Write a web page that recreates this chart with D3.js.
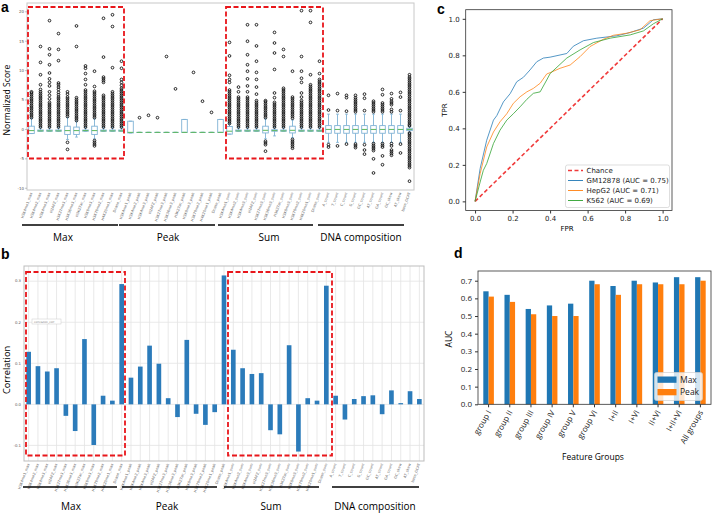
<!DOCTYPE html>
<html><head><meta charset="utf-8">
<script src="https://cdn.jsdelivr.net/npm/d3@7"></script>
<style>body{margin:0;background:#fff}svg{display:block}</style>
</head><body><svg id="c" width="712" height="516"></svg>
<script>
// ---------------- DATA ----------------
const featureNames = [
 "H3K4me1_max","H3K4me2_max","H3K4me3_max","H2AFZ_max","H3K27me3_max","H3K36me3_max","H3K27ac_max","H3K9me3_max","H3K79me2_max","H4K20me1_max","Dnase_max",
 "H3K4me1_peak","H3K4me2_peak","H3K4me3_peak","H2AFZ_peak","H3K27me3_peak","H3K36me3_peak","H3K27ac_peak","H3K9me3_peak","H3K79me2_peak","H4K20me1_peak","Dnase_peak",
 "H3K4me1_sum","H3K4me2_sum","H3K4me3_sum","H2AFZ_sum","H3K27me3_sum","H3K36me3_sum","H3K27ac_sum","H3K9me3_sum","H3K79me2_sum","H4K20me1_sum","Dnase_sum",
 "A_count","T_count","C_count","G_count","GC_count","AT_count","GA_count","GC_skew","AT_skew","base_GCAT"];
const groupNames = ["Max","Peak","Sum","DNA composition"];
const groupSizes = [11,11,11,10];

// panel a: box statistics (normalized score)
const boxQ1  = [-0.7,-0.3,-0.3,-0.3,-0.85,-0.85,-0.3,-0.85,-0.3,-0.3,-0.3,
                -0.6,-0.5,-0.5,-0.5,-0.5,-0.5,-0.5,-0.5,-0.5,-0.5,-0.5,
                -0.8,-0.3,-0.3,-0.3,-0.6,-0.3,-0.3,-0.6,-0.3,-0.3,-0.3,
                -0.65,-0.65,-0.65,-0.65,-0.65,-0.65,-0.65,-0.65,-0.65,-0.2];
const boxMed = [-0.2,-0.25,-0.25,-0.25,-0.2,-0.2,-0.2,-0.2,-0.25,-0.25,-0.25,
                -0.5,-0.5,-0.5,-0.5,-0.5,-0.5,-0.5,-0.5,-0.5,-0.5,-0.5,
                -0.3,-0.25,-0.25,-0.25,-0.15,-0.2,-0.25,-0.15,-0.25,-0.25,-0.25,
                0,0,0,0,0,0,0,0,0,0];
const boxQ3  = [0.55,-0.1,-0.1,-0.1,0.55,0.4,-0.1,0.55,-0.1,-0.1,-0.1,
                1.4,-0.5,-0.5,-0.5,-0.5,-0.5,1.7,-0.5,-0.5,-0.5,1.7,
                0.5,-0.1,-0.1,-0.1,0.55,-0.05,-0.1,0.55,-0.1,-0.1,-0.1,
                0.65,0.65,0.65,0.65,0.65,0.65,0.65,0.65,0.65,0.2];
const whiskLo = [-0.7,-0.3,-0.3,-0.3,-1.7,-1.3,-0.3,-1.6,-0.3,-0.3,-0.3,
                 -0.6,-0.5,-0.5,-0.5,-0.5,-0.5,-0.5,-0.5,-0.5,-0.5,-0.5,
                 -0.8,-0.3,-0.3,-0.3,-1.6,-1.1,-0.3,-1.4,-0.3,-0.3,-0.3,
                 -2.2,-2.2,-2.2,-2.2,-2.2,-2.2,-2.2,-2.2,-2.2,-0.5];
const whiskHi = [1.9,0.3,0.3,0.3,2.0,1.4,0.3,1.8,0.3,0.3,0.3,
                 1.4,-0.5,-0.5,-0.5,-0.5,-0.5,1.7,-0.5,-0.5,-0.5,1.7,
                 1.0,0.3,0.3,0.3,1.8,0.3,0.3,1.6,0.3,0.3,0.3,
                 2.6,2.6,2.6,2.6,2.6,2.6,2.6,2.6,2.6,0.5];
const outliers = [
 [2.0,2.3,2.6,2.9,3.2,3.5,3.8,4.1,4.4,4.7,5.0,5.3,5.6,5.9,6.2,6.4],
 [0.4,0.7,1.0,1.3,1.6,1.9,2.2,2.5,2.8,3.1,3.4,3.7,4.0,4.3,4.6,4.9,5.2,5.5,5.8,6.1,6.4,6.8,7.6,9.3,11.4,14.1],
 [0.4,0.7,1.0,1.3,1.6,1.9,2.2,2.5,2.8,3.1,3.4,3.7,4.0,4.3,4.6,5.2,5.8,6.4,7.4,8.0,8.6,9.6,11.0,12.7,13.7,18.5],
 [0.4,0.7,1.0,1.3,1.6,1.9,2.2,2.5,2.8,3.1,3.4,3.7,4.0,4.3,4.6,4.9,5.2,5.5,5.9,6.3,6.8,7.2,7.6,7.9,11.7,13.6,16.3],
 [-2.2,-3.4,2.2,2.5,2.8,3.1,3.4,3.7,4.0,4.3,4.6,4.9,5.2,5.5,6.0,6.4],
 [1.5,1.8,2.1,2.4,2.7,3.0,3.3,3.6,3.9,4.2,4.5,4.8,5.1,5.4,14.1,17.6],
 [0.4,0.7,1.0,1.3,1.6,1.9,2.2,2.5,2.8,3.1,3.4,3.7,4.0,4.3,4.6,4.9,5.2,5.5,5.8,6.1,6.4,6.7,7.6,8.5,9.5,10.4,10.8],
 [-1.9,-2.2,-2.5,-2.8,2.0,2.3,2.6,2.9,3.2,3.5,3.8,4.1,4.4,4.7,5.0,5.3,5.6,5.9,6.2,6.5,7.3,9.9],
 [0.4,0.7,1.0,1.3,1.6,1.9,2.2,2.5,2.8,3.1,3.4,3.7,4.0,4.3,4.6,4.9,5.2,5.5,5.8,8.0,8.3,8.6,8.9,12.3,18.9],
 [0.4,0.7,1.0,1.3,1.6,1.9,2.2,2.5,2.8,3.1,3.4,3.7,4.0,4.3,4.6,4.9,5.2,5.5,5.8,6.1,6.4,10.5,17.5,19.5],
 [0.4,0.7,1.0,1.3,1.6,1.9,2.2,2.5,2.8,3.1,3.4,3.7,4.0,4.3,4.6,4.9,5.2,5.5,5.8,6.1,6.4,6.7,7.0,7.5,8.0,8.5,10.4,11.6],
 [],[2.0],[2.4],[2.0],[12.4],[6.9],[],[9.7],[4.8],[2.9],[],
 [1.0,1.3,1.6,1.9,2.2,2.5,2.8,3.1,3.4,3.7,4.0,4.3,4.6,4.9,5.2,5.5,5.8,6.1,6.4,6.7,8.0,8.5,9.2,12.5,14.8],
 [0.4,0.7,1.0,1.3,1.6,1.9,2.2,2.5,2.8,3.1,3.4,3.7,4.0,4.3,4.6,4.9,5.2,5.5,6.4,7.2],
 [0.4,0.7,1.0,1.3,1.6,1.9,2.2,2.5,2.8,3.1,3.4,3.7,4.0,4.3,4.6,4.9,5.2,5.5,6.4,7.4,8.6,9.9,11.0,12.7,15.0,17.8],
 [0.4,0.7,1.0,1.3,1.6,1.9,2.2,2.5,2.8,3.1,3.4,3.7,4.0,4.3,4.6,4.9,6.0,7.2,8.5,9.7,11.6,14.2,17.8],
 [-2.0,-2.3,-2.6,-3.7,2.0,2.3,2.6,2.9,3.2,3.5,3.8,4.1,4.4,4.7,4.9],
 [0.4,0.7,1.0,1.3,1.6,1.9,2.2,2.5,2.8,3.1,3.4,3.7,4.0,4.3,4.6,5.4,6.2,10.2,13.0,14.7,16.5],
 [0.4,0.7,1.0,1.3,1.6,1.9,2.2,2.5,2.8,3.1,3.4,3.7,4.0,4.3,4.6,4.9,5.2,5.5,5.8,6.1,6.4,6.7,7.0,12.4,13.6],
 [-1.7,-2.0,-2.3,-2.6,-2.9,-3.2,1.9,2.2,2.5,2.8,3.1,3.4,3.7,4.0,4.3,4.6,4.9,5.2,5.5,9.9],
 [0.4,0.7,1.0,1.3,1.6,1.9,2.2,2.5,2.8,3.1,3.4,3.7,4.0,4.3,4.6,4.9,5.5,6.2,8.0,8.7,9.9,12.4,20.2],
 [0.4,0.7,1.0,1.3,1.6,1.9,2.2,2.5,2.8,3.1,3.4,3.7,4.0,4.3,4.6,4.9,5.2,5.5,5.8,6.1,6.4,6.7,7.0,7.3,7.6,9.3,18.2,20.2],
 [0.4,0.7,1.0,1.3,1.6,1.9,2.2,2.5,2.8,3.1,3.4,3.7,4.0,4.3,4.6,4.9,5.2,5.5,5.8,6.1,6.4,6.7,7.0,7.3,7.6,7.9,8.2,8.5,9.5,11.6],
 [-2.6,-3.0,3.3,5.8],
 [-2.8,3.2,6.1],
 [-2.5,3.1,5.4,5.8],
 [-2.5,-2.8,-3.1,3.0,3.3,3.6,3.9,4.2,4.5,4.8,5.1,5.4,5.8],
 [-2.6,-3.5,-4.2,3.2,5.3,6.0],
 [-2.4,-2.7,-3.0,-3.3,-3.6,-5.0,-7.4,3.0,3.3,3.6,3.9,4.2,4.5,4.8],
 [-2.4,-2.7,-3.0,-4.5,-6.0,3.0,3.3,3.6,3.9,4.2,4.5,5.9,6.8],
 [-2.4,-2.8,-3.5,-3.8,-4.1,-4.4,3.0,3.4,4.2,4.5,4.8,5.2,6.1],
 [-2.5,-4.0,3.2,5.5,6.3],
 [-8.8,-6.5,-6.2,-5.9,-5.6,-5.3,-5.0,-4.7,-4.4,-4.1,-3.8,-3.5,-3.2,-2.9,-2.6,-2.3,-2.0,-1.7,-1.4,-1.1,-0.8,-0.6,0.6,0.8,1.1,1.4,1.7,2.0,2.3,2.6,2.9,3.2,3.5,3.8,4.1,4.4,4.7,5.0,5.3,5.6,5.9,6.2,6.5,6.8,7.1,7.4,7.7,8.0,8.3,8.6,8.9,9.3]
];
const scoreTicks = [20,15,10,5,0,-5,-10];

// panel b: correlation
const corrValues = [0.128,0.093,0.080,0.088,-0.028,-0.065,0.159,-0.099,0.021,0.009,0.293,
                    0.065,0.092,0.143,0.099,0.015,-0.031,0.157,-0.023,-0.050,-0.019,0.314,
                    0.133,0.088,0.074,0.076,-0.063,-0.073,0.144,-0.115,0.015,0.009,0.289,
                    0.021,-0.037,0.013,0.020,0.022,-0.024,0.034,0.003,0.032,0.013];
const corrTicks = [0.3,0.2,0.1,0.0,-0.1];

// panel c: ROC
const fprGM  = [0,0.027,0.062,0.098,0.116,0.151,0.187,0.222,0.258,0.293,0.329,0.364,0.4,0.489,0.524,0.578,0.649,0.756,0.827,0.898,0.951,1.0];
const tprGM  = [0,0.18,0.335,0.445,0.47,0.545,0.59,0.655,0.68,0.72,0.765,0.785,0.79,0.81,0.85,0.88,0.894,0.907,0.925,0.949,0.995,1.0];
const fprHep = [0,0.027,0.062,0.098,0.133,0.169,0.204,0.24,0.276,0.311,0.347,0.382,0.4,0.453,0.507,0.56,0.613,0.684,0.738,0.809,0.88,0.933,1.0];
const tprHep = [0,0.152,0.298,0.38,0.436,0.48,0.537,0.573,0.6,0.619,0.647,0.698,0.705,0.729,0.747,0.793,0.848,0.888,0.91,0.921,0.94,0.99,1.0];
const fprK   = [0,0.027,0.044,0.062,0.098,0.133,0.169,0.204,0.24,0.276,0.311,0.347,0.382,0.4,0.489,0.56,0.631,0.72,0.827,0.898,0.951,1.0];
const tprK   = [0,0.106,0.17,0.207,0.317,0.39,0.445,0.48,0.518,0.559,0.592,0.6,0.665,0.70,0.785,0.83,0.87,0.894,0.912,0.934,0.973,1.0];
const rocLabels = ["GM12878 (AUC = 0.75)","HepG2 (AUC = 0.71)","K562 (AUC = 0.69)"];
const rateTicks = [0,0.2,0.4,0.6,0.8,1.0];

// panel d: AUC by feature group
const featureGroups = ["group I","group II","group III","group IV","group V","group VI","I+II","I+VI","II+VI","I+II+VI","All groups"];
const aucMax  = [0.64,0.62,0.54,0.56,0.57,0.70,0.67,0.70,0.69,0.72,0.72];
const aucPeak = [0.61,0.58,0.51,0.50,0.50,0.68,0.62,0.68,0.68,0.68,0.70];
const aucTicks = [0,0.1,0.2,0.3,0.4,0.5,0.6,0.7];

// ---------------- DRAW ----------------
const svg = d3.select("#c");
const F = "'Open Sans', 'DejaVu Sans', sans-serif";
const FD = "'DejaVu Sans', sans-serif";
svg.append("rect").attr("width",712).attr("height",516).attr("fill","#fff");

[["a",1,12],["b",1,259],["c",437,14],["d",454,258]].forEach(([t,x,y])=>
  svg.append("text").attr("x",x).attr("y",y).text(t)
    .attr("font-family","'Liberation Sans', Arial, sans-serif").attr("font-weight","bold").attr("font-size",14));

function groupUnderlines(g, y, yText, segs, labelX){
  groupNames.forEach((name,i)=>{
    g.append("line").attr("x1",segs[i][0]).attr("x2",segs[i][1]).attr("y1",y).attr("y2",y)
      .attr("stroke","#000").attr("stroke-width",1.6);
    g.append("text").attr("x",labelX[i]).attr("y",yText).attr("text-anchor","middle")
      .attr("font-family",F).attr("font-size",10).text(name);
  });
}

// ---------- Panel a ----------
{
  const g = svg.append("g");
  const x = d3.scaleBand().domain(featureNames).range([27,414]);
  const y = d3.scaleLinear().domain([-10.3,21.5]).range([190,3]);
  const bw = x.bandwidth()*0.62;
  g.append("rect").attr("x",27).attr("y",3).attr("width",387).attr("height",187)
    .attr("fill","none").attr("stroke","#c8c8c8").attr("stroke-width",1);
  scoreTicks.forEach(t=>{
    g.append("line").attr("x1",25).attr("x2",27).attr("y1",y(t)).attr("y2",y(t)).attr("stroke","#888").attr("stroke-width",0.5);
    g.append("text").attr("x",24).attr("y",y(t)+1.3).attr("text-anchor","end").attr("font-size",4)
      .attr("font-family",FD).attr("fill","#555").text(t);
  });
  featureNames.forEach((f,i)=>{
    const cx = x(f)+x.bandwidth()/2;
    const col = "#7fb2d5";
    g.append("line").attr("x1",cx).attr("x2",cx).attr("y1",y(boxQ3[i])).attr("y2",y(whiskHi[i])).attr("stroke",col).attr("stroke-width",0.9);
    g.append("line").attr("x1",cx).attr("x2",cx).attr("y1",y(boxQ1[i])).attr("y2",y(whiskLo[i])).attr("stroke",col).attr("stroke-width",0.9);
    [whiskHi[i],whiskLo[i]].forEach(w=>g.append("line").attr("x1",cx-bw/4).attr("x2",cx+bw/4).attr("y1",y(w)).attr("y2",y(w)).attr("stroke",col).attr("stroke-width",0.9));
    g.append("rect").attr("x",cx-bw/2).attr("y",y(boxQ3[i])).attr("width",bw).attr("height",Math.max(0.01,y(boxQ1[i])-y(boxQ3[i])))
      .attr("fill","none").attr("stroke",col).attr("stroke-width",0.9);
    outliers[i].forEach(v=>g.append("circle").attr("cx",cx).attr("cy",y(v)).attr("r",1.35)
      .attr("fill","none").attr("stroke","#111").attr("stroke-width",0.9));
    g.append("line").attr("x1",cx-bw/2).attr("x2",cx+bw/2).attr("y1",y(boxMed[i])).attr("y2",y(boxMed[i]))
      .attr("stroke","#5cb85c").attr("stroke-width",1);
    g.append("text").attr("transform",`translate(${cx+1},${193}) rotate(-70)`).attr("text-anchor","end")
      .attr("font-size",3.6).attr("font-family",FD).attr("fill","#666").text(f);
  });
  [[28,124],[226,323]].forEach(([x1,x2])=>g.append("rect").attr("x",x1).attr("y",7).attr("width",x2-x1).attr("height",151.5)
    .attr("fill","none").attr("stroke","#e8161b").attr("stroke-width",1.8).attr("stroke-dasharray","5,2.5"));
  groupUnderlines(g,225,241,[[22,118],[119,215],[218,313],[318,404]],[63,168,269,361]);
  g.append("text").attr("transform","translate(10,100) rotate(-90)").attr("text-anchor","middle")
    .attr("font-family",F).attr("font-size",8.6).text("Normalized Score");
}

// ---------- Panel b ----------
{
  const g = svg.append("g");
  const x = d3.scaleBand().domain(featureNames).range([24,424]);
  const y = d3.scaleLinear().domain([-0.138,0.337]).range([461,266]);
  featureNames.forEach(f=>{
    const cx = x(f)+x.bandwidth()/2;
    g.append("line").attr("x1",cx).attr("x2",cx).attr("y1",266).attr("y2",461).attr("stroke","#e3e3e3").attr("stroke-width",0.8);
  });
  corrTicks.forEach(t=>{
    g.append("line").attr("x1",24).attr("x2",424).attr("y1",y(t)).attr("y2",y(t)).attr("stroke","#e3e3e3").attr("stroke-width",0.8);
    g.append("text").attr("x",21).attr("y",y(t)+1.3).attr("text-anchor","end").attr("font-size",3.8)
      .attr("font-family",FD).attr("fill","#555").text(t.toFixed(1));
  });
  g.append("rect").attr("x",24).attr("y",266).attr("width",400).attr("height",195)
    .attr("fill","none").attr("stroke","#bdbdbd").attr("stroke-width",1);
  const bwid = x.bandwidth()*0.5;
  featureNames.forEach((f,i)=>{
    const cx = x(f)+x.bandwidth()/2;
    const v = corrValues[i];
    g.append("rect").attr("x",cx-bwid/2).attr("y",y(Math.max(0,v))).attr("width",bwid)
      .attr("height",Math.abs(y(v)-y(0))).attr("fill","#2b7bba");
    g.append("text").attr("transform",`translate(${cx+1},${464}) rotate(-70)`).attr("text-anchor","end")
      .attr("font-size",3.6).attr("font-family",FD).attr("fill","#666").text(f);
  });
  g.append("rect").attr("x",32).attr("y",319).attr("width",29).attr("height",5).attr("fill","#fff").attr("stroke","#ccc").attr("stroke-width",0.5);
  g.append("text").attr("x",34).attr("y",322.6).attr("font-size",2.6).attr("font-family",FD).attr("fill","#777").text("correlation_corr");
  [[26,125],[228,332]].forEach(([x1,x2])=>g.append("rect").attr("x",x1).attr("y",272).attr("width",x2-x1).attr("height",183.5)
    .attr("fill","none").attr("stroke","#e8161b").attr("stroke-width",1.8).attr("stroke-dasharray","5,2.5"));
  groupUnderlines(g,487,510,[[23,117],[122,217],[224,319],[332,419]],[71,167,271,375]);
  g.append("text").attr("transform","translate(10,370) rotate(-90)").attr("text-anchor","middle")
    .attr("font-family",F).attr("font-size",9.2).text("Correlation");
}

// ---------- Panel c ----------
{
  const g = svg.append("g");
  const x = d3.scaleLinear().domain([-0.05,1.05]).range([465.7,672]);
  const y = d3.scaleLinear().domain([-0.05,1.05]).range([210.5,9.7]);
  g.append("g").attr("transform","translate(0,210.5)")
    .call(d3.axisBottom(x).tickValues(rateTicks).tickFormat(d3.format(".1f")).tickSizeOuter(0).tickSize(3))
    .call(a=>{a.select(".domain").remove(); a.selectAll("text").attr("font-size",7).attr("font-family",FD).attr("fill","#222"); a.selectAll("line").attr("stroke","#333");});
  g.append("g").attr("transform","translate(465.7,0)")
    .call(d3.axisLeft(y).tickValues(rateTicks).tickFormat(d3.format(".1f")).tickSizeOuter(0).tickSize(3))
    .call(a=>{a.select(".domain").remove(); a.selectAll("text").attr("font-size",7).attr("font-family",FD).attr("fill","#222"); a.selectAll("line").attr("stroke","#333");});
  const line = d3.line().x(d=>x(d[0])).y(d=>y(d[1]));
  g.append("path").datum([[0,0],[1,1]]).attr("d",line).attr("fill","none").attr("stroke","#f03a3a").attr("stroke-width",1.6).attr("stroke-dasharray","4,2.5");
  const series = [[fprGM,tprGM,"#1f77b4"],[fprHep,tprHep,"#ff7f0e"],[fprK,tprK,"#2ca02c"]];
  series.forEach(([fx,ty,c])=>g.append("path").datum(fx.map((v,i)=>[v,ty[i]])).attr("d",line)
    .attr("fill","none").attr("stroke",c).attr("stroke-width",0.9).attr("opacity",0.85));
  g.append("rect").attr("x",465.7).attr("y",9.7).attr("width",672-465.7).attr("height",210.5-9.7)
    .attr("fill","none").attr("stroke","#333").attr("stroke-width",0.8);
  const lg = g.append("g");
  lg.append("rect").attr("x",565.5).attr("y",165).attr("width",104).attr("height",42.5).attr("rx",2)
    .attr("fill","#fff").attr("fill-opacity",0.85).attr("stroke","#d0d0d0").attr("stroke-width",0.7);
  const entries = [["Chance","#f03a3a",true]].concat(rocLabels.map((l,i)=>[l,series[i][2],false]));
  entries.forEach(([t,c,dash],i)=>{
    const yy = 170.5 + i*10;
    lg.append("line").attr("x1",568).attr("x2",583).attr("y1",yy).attr("y2",yy).attr("stroke",c)
      .attr("stroke-width",dash?1.6:0.9).attr("stroke-dasharray",dash?"4,2.5":null);
    lg.append("text").attr("x",586.5).attr("y",yy+2.5).attr("font-size",7).attr("font-family",FD).attr("fill","#222").text(t);
  });
  g.append("text").attr("x",567).attr("y",231).attr("text-anchor","middle").attr("font-size",7).attr("font-family",FD).text("FPR");
  g.append("text").attr("transform","translate(447,110) rotate(-90)").attr("text-anchor","middle").attr("font-size",7).attr("font-family",FD).text("TPR");
}

// ---------- Panel d ----------
{
  const g = svg.append("g");
  const x = d3.scaleBand().domain(featureGroups).range([478,711]);
  const y = d3.scaleLinear().domain([0,0.755]).range([404.3,271]);
  const bw = x.bandwidth()*0.25;
  featureGroups.forEach((f,i)=>{
    const cx = x(f)+x.bandwidth()/2;
    g.append("rect").attr("x",cx-bw).attr("y",y(aucMax[i])).attr("width",bw).attr("height",y(0)-y(aucMax[i])).attr("fill","#1f77b4");
    g.append("rect").attr("x",cx).attr("y",y(aucPeak[i])).attr("width",bw).attr("height",y(0)-y(aucPeak[i])).attr("fill","#ff7f0e");
  });
  g.append("g").attr("transform","translate(0,404.3)")
    .call(d3.axisBottom(x).tickSize(3).tickSizeOuter(0))
    .call(a=>{a.select(".domain").remove(); a.selectAll("line").attr("stroke","#333");
      a.selectAll("text").attr("font-size",8).attr("font-family",F).attr("fill","#222")
       .attr("text-anchor","end").attr("dy",null).attr("y",null)
       .attr("transform","translate(3,8) rotate(-60)");});
  g.append("g").attr("transform","translate(478,0)")
    .call(d3.axisLeft(y).tickValues(aucTicks).tickFormat(d3.format(".1f")).tickSize(3).tickSizeOuter(0))
    .call(a=>{a.select(".domain").remove(); a.selectAll("text").attr("font-size",8).attr("font-family",F).attr("fill","#222"); a.selectAll("line").attr("stroke","#333");});
  g.append("rect").attr("x",478).attr("y",271).attr("width",233).attr("height",133.3)
    .attr("fill","none").attr("stroke","#333").attr("stroke-width",0.8);
  g.append("rect").attr("x",654.5).attr("y",372.5).attr("width",48).attr("height",28).attr("rx",2)
    .attr("fill","#fff").attr("fill-opacity",0.8).attr("stroke","#d0d0d0").attr("stroke-width",0.7);
  [["Max","#1f77b4"],["Peak","#ff7f0e"]].forEach(([t,c],i)=>{
    g.append("rect").attr("x",657.5).attr("y",376.5+i*12.5).attr("width",19).attr("height",6.3).attr("fill",c);
    g.append("text").attr("x",680).attr("y",382.5+i*12.5).attr("font-size",8.5).attr("font-family",F).attr("fill","#222").text(t);
  });
  g.append("text").attr("x",593).attr("y",460).attr("text-anchor","middle").attr("font-size",8.5).attr("font-family",F).text("Feature Groups");
  g.append("text").attr("transform","translate(452,339) rotate(-90)").attr("text-anchor","middle").attr("font-size",8.5).attr("font-family",F).text("AUC");
}
</script>
</body></html>
